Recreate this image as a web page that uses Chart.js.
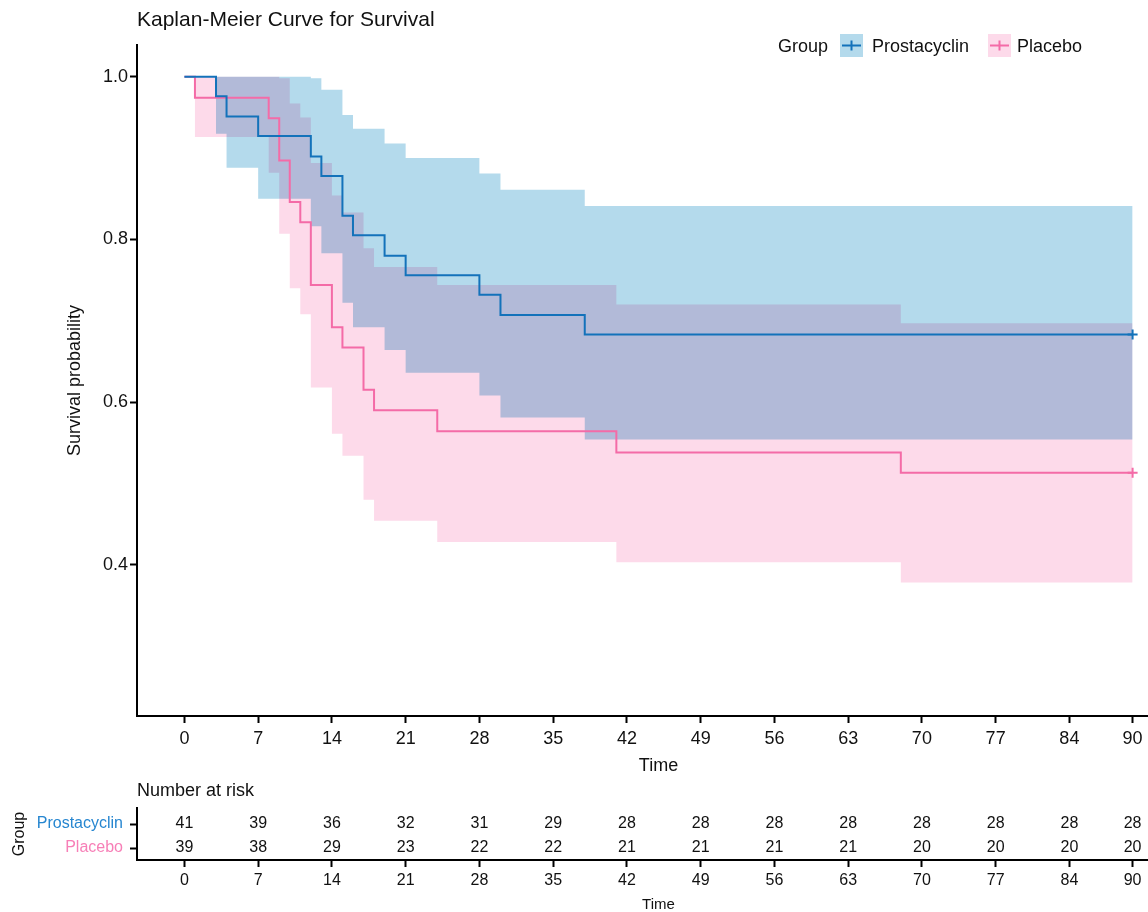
<!DOCTYPE html>
<html>
<head>
<meta charset="utf-8">
<title>Kaplan-Meier Curve for Survival</title>
<script src="https://cdn.jsdelivr.net/npm/chart.js@4.4.1/dist/chart.umd.min.js"></script>
<style>
  html, body { margin: 0; padding: 0; background: #fff; }
  #wrap { position: relative; width: 1148px; height: 912px; overflow: hidden; }
  #kmChart { position: absolute; left: 0; top: 0; }
  #riskChart { position: absolute; left: 0; top: 780px; }
</style>
</head>
<body>
<div id="wrap">
  <canvas id="kmChart" width="1180" height="780"></canvas>
  <canvas id="riskChart" width="1180" height="132"></canvas>
</div>
<script>
// Values
const groups = ["Prostacyclin", "Placebo"];

const timeProstacyclin  = [0, 3, 4, 7, 12, 13, 15, 16, 19, 21, 28, 30, 38, 90];
const survProstacyclin  = [1, 0.976, 0.951, 0.927, 0.902, 0.878, 0.829, 0.805, 0.780, 0.756, 0.732, 0.707, 0.683, 0.683];
const upperProstacyclin = [1, 1, 1, 1, 0.998, 0.984, 0.953, 0.936, 0.918, 0.900, 0.881, 0.861, 0.841, 0.841];
const lowerProstacyclin = [1, 0.930, 0.888, 0.850, 0.816, 0.783, 0.722, 0.692, 0.664, 0.636, 0.608, 0.581, 0.554, 0.554];

const timePlacebo  = [0, 1, 8, 9, 10, 11, 12, 14, 15, 17, 18, 24, 41, 68, 90];
const survPlacebo  = [1, 0.974, 0.949, 0.897, 0.846, 0.821, 0.744, 0.692, 0.667, 0.615, 0.590, 0.564, 0.538, 0.513, 0.513];
const upperPlacebo = [1, 1, 1, 0.998, 0.967, 0.950, 0.894, 0.854, 0.833, 0.789, 0.766, 0.744, 0.720, 0.697, 0.697];
const lowerPlacebo = [1, 0.926, 0.882, 0.807, 0.740, 0.708, 0.618, 0.561, 0.534, 0.480, 0.454, 0.428, 0.403, 0.378, 0.378];

const censorTimes = [90];

const xTicks = [0, 7, 14, 21, 28, 35, 42, 49, 56, 63, 70, 77, 84, 90];
const yTicks = [0.4, 0.6, 0.8, 1.0];
const yTickLabels = ["0.4", "0.6", "0.8", "1.0"];

const riskProstacyclin = [41, 39, 36, 32, 31, 29, 28, 28, 28, 28, 28, 28, 28, 28];
const riskPlacebo      = [39, 38, 29, 23, 22, 22, 21, 21, 21, 21, 20, 20, 20, 20];

// look
const FONT = "'Liberation Sans', Arial, Helvetica, sans-serif";
const TEXT = '#111';
const blueLine = '#1372BA', pinkLine = '#F46BA7';
const blueBand = '#B4DAEC', pinkBand = '#FDDAEA';
const blueLabel = '#2686D0', pinkLabel = '#F77FB7';

Chart.defaults.font.family = FONT;
Chart.defaults.color = TEXT;

function pts(times, vals) {
  return times.map((t, i) => ({ x: t, y: vals[i] }));
}

// survival curves hold their value until the next event time
function band(times, vals, color, fill) {
  return {
    data: pts(times, vals),
    stepped: 'before',
    borderWidth: 0,
    pointRadius: 0,
    backgroundColor: color,
    fill: fill
  };
}

function curve(label, times, vals, color) {
  return {
    label: label,
    data: pts(times, vals),
    stepped: 'before',
    borderColor: color,
    borderWidth: 2,
    fill: false,
    pointStyle: 'cross',
    pointRadius: c => censorTimes.includes(c.raw.x) ? 5 : 0,
    pointBorderColor: color,
    pointBorderWidth: 2,
    pointHitRadius: 0
  };
}

const axisGrid = { drawOnChartArea: false, drawTicks: true, tickLength: 7, tickWidth: 2, tickColor: '#000' };
const axisBorder = { display: true, color: '#000', width: 2 };

// bands are blended with multiply so their overlap turns purple
const kmDecor = {
  id: 'kmDecor',
  beforeDraw(chart) { chart.ctx.globalCompositeOperation = 'multiply'; },
  beforeDatasetDraw(chart) { chart.ctx.globalCompositeOperation = 'source-over'; },
  afterDraw(chart) {
    const ctx = chart.ctx;
    ctx.save();
    ctx.globalCompositeOperation = 'source-over';
    ctx.fillStyle = TEXT;
    ctx.textAlign = 'left';
    ctx.textBaseline = 'alphabetic';
    ctx.font = '21px ' + FONT;
    ctx.fillText('Kaplan-Meier Curve for Survival', chart.chartArea.left, 26);

    // legend
    ctx.font = '18px ' + FONT;
    ctx.fillText('Group', 778, 52);
    const items = [
      { x: 840, tx: 872, band: blueBand, line: blueLine, text: groups[0] },
      { x: 988, tx: 1017, band: pinkBand, line: pinkLine, text: groups[1] }
    ];
    items.forEach(it => {
      ctx.fillStyle = it.band;
      ctx.fillRect(it.x, 34, 23, 23);
      ctx.strokeStyle = it.line;
      ctx.lineWidth = 2;
      ctx.beginPath();
      ctx.moveTo(it.x + 2, 45.5); ctx.lineTo(it.x + 21, 45.5);
      ctx.moveTo(it.x + 11.5, 40.5); ctx.lineTo(it.x + 11.5, 50.5);
      ctx.stroke();
      ctx.fillStyle = TEXT;
      ctx.fillText(it.text, it.tx, 52);
    });
    ctx.restore();
  }
};

new Chart(document.getElementById('kmChart'), {
  type: 'line',
  data: {
    datasets: [
      band(timeProstacyclin, upperProstacyclin, blueBand, false),
      band(timeProstacyclin, lowerProstacyclin, blueBand, '-1'),
      band(timePlacebo, upperPlacebo, pinkBand, false),
      band(timePlacebo, lowerPlacebo, pinkBand, '-1'),
      curve(groups[0], timeProstacyclin, survProstacyclin, blueLine),
      curve(groups[1], timePlacebo, survPlacebo, pinkLine)
    ]
  },
  options: {
    responsive: false,
    animation: false,
    layout: { autoPadding: false, padding: { top: 45, left: 0, right: 0, bottom: 0 } },
    plugins: {
      legend: { display: false },
      tooltip: { enabled: false },
      filler: { drawTime: 'beforeDatasetsDraw' }
    },
    scales: {
      x: {
        type: 'linear',
        min: -4.5,
        max: 94.5,
        afterBuildTicks: s => { s.ticks = xTicks.map(v => ({ value: v })); },
        afterFit: s => { s.height = 64; },
        grid: axisGrid,
        border: axisBorder,
        ticks: { autoSkip: false, maxRotation: 0, padding: 5, color: TEXT, font: { size: 18 },
                 callback: (v, i) => String(xTicks[i]) },
        title: { display: true, text: 'Time', color: TEXT, font: { size: 18 }, padding: { top: 0, bottom: 3 } }
      },
      y: {
        type: 'linear',
        min: 0.214,
        max: 1.039,
        afterBuildTicks: s => { s.ticks = yTicks.map(v => ({ value: v })); },
        afterFit: s => { s.width = 137; },
        grid: axisGrid,
        border: axisBorder,
        ticks: { padding: 2, color: TEXT, font: { size: 18 }, callback: (v, i) => yTickLabels[i] },
        title: { display: true, text: 'Survival probability', color: TEXT, font: { size: 18 }, padding: { top: 64, bottom: 0 } }
      }
    }
  },
  plugins: [kmDecor]
});

// number-at-risk table
const riskText = {
  id: 'riskText',
  afterDatasetsDraw(chart) {
    const ctx = chart.ctx;
    ctx.save();
    ctx.fillStyle = TEXT;
    ctx.font = '16px ' + FONT;
    ctx.textAlign = 'center';
    ctx.textBaseline = 'middle';
    chart.data.datasets.forEach((ds, di) => {
      chart.getDatasetMeta(di).data.forEach((el, i) => {
        ctx.fillText(String(ds.data[i].n), el.x, el.y);
      });
    });
    ctx.textAlign = 'left';
    ctx.textBaseline = 'alphabetic';
    ctx.font = '18px ' + FONT;
    ctx.fillText('Number at risk', chart.chartArea.left, 16);
    ctx.restore();
  }
};

new Chart(document.getElementById('riskChart'), {
  type: 'scatter',
  data: {
    datasets: [
      { label: groups[0], data: xTicks.map((t, i) => ({ x: t, y: 2, n: riskProstacyclin[i] })), pointRadius: 0 },
      { label: groups[1], data: xTicks.map((t, i) => ({ x: t, y: 1, n: riskPlacebo[i] })), pointRadius: 0 }
    ]
  },
  options: {
    responsive: false,
    animation: false,
    layout: { autoPadding: false, padding: { top: 28, left: 0, right: 0, bottom: 0 } },
    plugins: { legend: { display: false }, tooltip: { enabled: false } },
    scales: {
      x: {
        type: 'linear',
        min: -4.5,
        max: 94.5,
        afterBuildTicks: s => { s.ticks = xTicks.map(v => ({ value: v })); },
        afterFit: s => { s.height = 52; },
        grid: axisGrid,
        border: axisBorder,
        ticks: { autoSkip: false, maxRotation: 0, padding: 4, color: TEXT, font: { size: 16 },
                 callback: (v, i) => String(xTicks[i]) },
        title: { display: true, text: 'Time', color: TEXT, font: { size: 15, lineHeight: 1 }, padding: { top: 0, bottom: 0 } }
      },
      y: {
        type: 'linear',
        min: 0.5,
        max: 2.6667,
        afterBuildTicks: s => { s.ticks = [{ value: 2 }, { value: 1 }]; },
        afterFit: s => { s.width = 137; },
        grid: axisGrid,
        border: axisBorder,
        ticks: { padding: 7, font: { size: 16 },
                 color: c => c.tick && c.tick.value === 2 ? blueLabel : pinkLabel,
                 callback: v => v === 2 ? groups[0] : groups[1] },
        title: { display: true, text: 'Group', color: TEXT, font: { size: 16 }, padding: { top: 10, bottom: 0 } }
      }
    }
  },
  plugins: [riskText]
});
</script>
</body>
</html>
